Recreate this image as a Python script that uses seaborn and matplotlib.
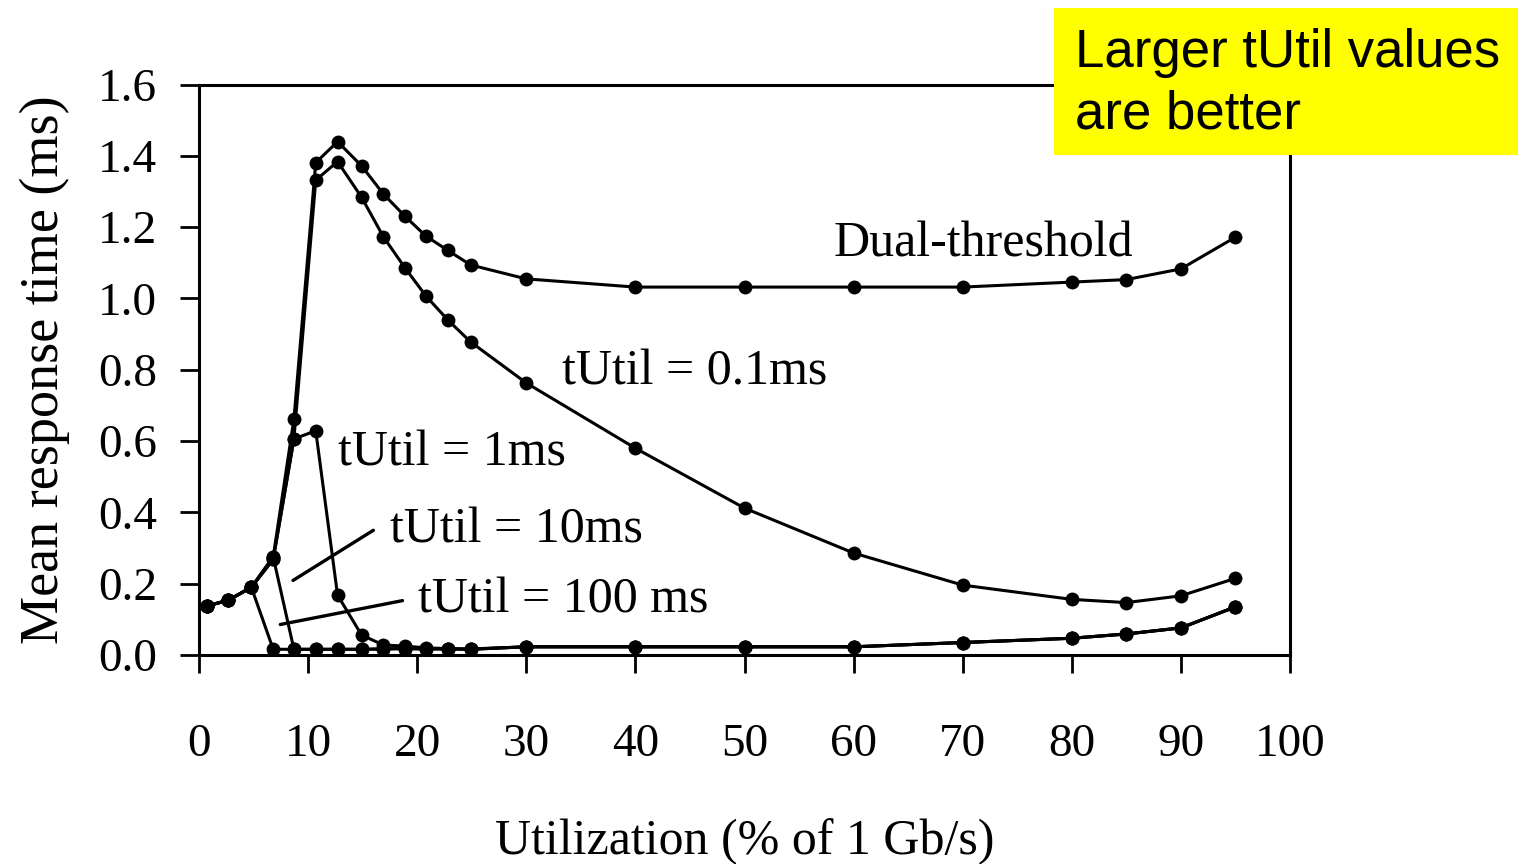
import numpy as np
import pandas as pd
import matplotlib
matplotlib.use("Agg")
import matplotlib.pyplot as plt
import seaborn as sns
from matplotlib.patches import Rectangle

# ---- data ----
util = [0.7, 2.7, 4.8, 6.8, 8.7, 10.7, 12.7, 14.9, 16.9, 18.9, 20.8, 22.8, 24.9,
        30, 40, 50, 60, 70, 80, 85, 90, 95]

dual_threshold = [0.137, 0.154, 0.19, 0.275, 0.662, 1.381, 1.44, 1.372, 1.293, 1.23,
                  1.175, 1.135, 1.094, 1.055, 1.032, 1.032, 1.032, 1.032, 1.046,
                  1.053, 1.083, 1.172]
tutil_01ms = [0.137, 0.154, 0.19, 0.268, 0.606, 1.332, 1.384, 1.284, 1.173, 1.085,
              1.007, 0.94, 0.878, 0.763, 0.58, 0.412, 0.286, 0.196, 0.156, 0.147,
              0.166, 0.215]
tutil_1ms = [0.137, 0.154, 0.19, 0.268, 0.606, 0.629, 0.168, 0.056, 0.028, 0.025,
             0.02, 0.018, 0.017, 0.023, 0.023, 0.023, 0.023, 0.035, 0.047, 0.059,
             0.076, 0.135]
tutil_10ms = [0.137, 0.154, 0.19, 0.275, 0.016, 0.016, 0.016, 0.016, 0.017, 0.018,
              0.017, 0.017, 0.016, 0.023, 0.023, 0.023, 0.023, 0.035, 0.047, 0.059,
              0.076, 0.135]
tutil_100ms = [0.137, 0.154, 0.19, 0.016, 0.016, 0.016, 0.016, 0.016, 0.017, 0.018,
               0.017, 0.017, 0.016, 0.023, 0.023, 0.023, 0.023, 0.035, 0.047, 0.059,
               0.076, 0.135]

series_names = ["Dual-threshold", "tUtil = 0.1ms", "tUtil = 1ms", "tUtil = 10ms", "tUtil = 100 ms"]
series_values = [dual_threshold, tutil_01ms, tutil_1ms, tutil_10ms, tutil_100ms]

x_ticks = [0, 10, 20, 30, 40, 50, 60, 70, 80, 90, 100]
y_ticks = [0.0, 0.2, 0.4, 0.6, 0.8, 1.0, 1.2, 1.4, 1.6]

# ---- style ----
sns.set_theme(style="ticks")
plt.rcParams["font.family"] = ["Liberation Serif", "DejaVu Serif"]
plt.rcParams["text.color"] = "black"
plt.rcParams["axes.labelcolor"] = "black"
plt.rcParams["xtick.color"] = "black"
plt.rcParams["ytick.color"] = "black"

fig = plt.figure(figsize=(15.18, 8.64), dpi=100)
ax = fig.add_axes([0.1311, 0.2419, 0.8498 - 0.1311, 0.9021 - 0.2419])

for name, vals in zip(series_names, series_values):
    df = pd.DataFrame({"util": util, "resp": vals})
    sns.lineplot(data=df, x="util", y="resp", ax=ax, color="black", linewidth=2.2,
                 marker="o", markersize=10, markeredgewidth=0, sort=False,
                 estimator=None, legend=False)

ax.set_xlim(0, 100)
ax.set_ylim(0, 1.6)
ax.set_xticks(x_ticks)
ax.set_yticks(y_ticks)
ax.set_xticklabels([str(t) for t in x_ticks])
ax.set_yticklabels([f"{t:.1f}" for t in y_ticks])

for s in ax.spines.values():
    s.set_visible(True)
    s.set_linewidth(2.2)
    s.set_color("black")

ax.tick_params(axis="x", direction="out", length=13, width=2.0, pad=36,
               labelsize=34, colors="black")
ax.tick_params(axis="y", direction="out", length=14, width=2.0, pad=16,
               labelsize=34, colors="black")

ax.set_xlabel("Utilization (% of 1 Gb/s)", fontsize=36, labelpad=38, color="black")
ax.set_ylabel("Mean response time (ms)", fontsize=39, labelpad=20, color="black")

# series annotations
ax.text(58.2, 1.153, "Dual-threshold", fontsize=36, va="center", ha="left", color="black")
ax.text(33.3, 0.794, "tUtil = 0.1ms", fontsize=36, va="center", ha="left", color="black")
ax.text(12.7, 0.567, "tUtil = 1ms", fontsize=36, va="center", ha="left", color="black")
ax.text(17.5, 0.35, "tUtil = 10ms", fontsize=36, va="center", ha="left", color="black")
ax.text(20.1, 0.154, "tUtil = 100 ms", fontsize=36, va="center", ha="left", color="black")

ax.annotate("", xy=(8.4, 0.205), xytext=(16.2, 0.354),
            arrowprops=dict(arrowstyle="-", color="black", lw=2.4))
ax.annotate("", xy=(7.2, 0.084), xytext=(18.9, 0.154),
            arrowprops=dict(arrowstyle="-", color="black", lw=2.4))

# yellow note box (figure coords)
W, H = 1518, 864
box = Rectangle((1054 / W, 1 - 155 / H), (1518 - 1054) / W, (155 - 8) / H,
                transform=fig.transFigure, facecolor="#ffff00", edgecolor="none",
                zorder=10)
fig.add_artist(box)
fig.text(1075 / W, 1 - 84 / H, "Larger tUtil values\nare better",
         fontsize=38, family=["Liberation Sans", "DejaVu Sans"],
         ha="left", va="center", linespacing=1.3, color="black", zorder=11)

fig.savefig("out.png", dpi=100)
